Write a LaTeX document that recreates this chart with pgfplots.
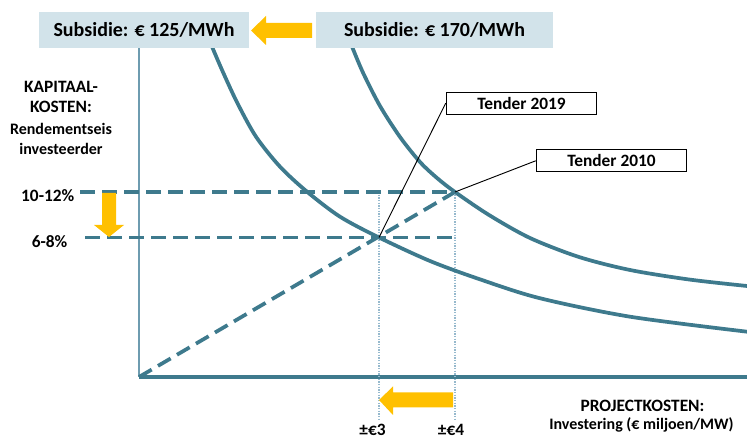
\documentclass[border=0pt]{standalone}
\usepackage{fontspec}
\setmainfont{Carlito}
\usepackage{pgfplots}
\pgfplotsset{compat=1.18}

\definecolor{curve}{RGB}{62,122,141}
\definecolor{axisline}{RGB}{110,156,176}
\definecolor{guide}{RGB}{150,185,205}
\definecolor{boxfill}{RGB}{210,227,234}
\definecolor{arrowor}{RGB}{255,192,0}

% 1 unit = 0.75pt; origin at the corner of the axes
\begin{document}
\begin{tikzpicture}
\useasboundingbox (0,0) rectangle (560.25pt,328.5pt);
\clip (0,0) rectangle (560.25pt,328.5pt);
\begin{axis}[
    at={(0,0)}, anchor=south west,
    scale only axis,
    width=560.25pt, height=328.5pt,
    xmin=-139, xmax=608, ymin=-61, ymax=377,
    axis lines=none, clip=false,
    font=\bfseries,
]
% axes
\addplot[axisline, line width=1.1pt] coordinates {(0,330) (0,0)};
\addplot[curve, line width=3pt] coordinates {(0,0) (608,0)};

% guide lines
\addplot[guide, line width=0.8pt, dash pattern=on 1pt off 1pt] coordinates {(240,185) (240,-43)};
\addplot[guide, line width=0.8pt, dash pattern=on 1pt off 1pt] coordinates {(316,185) (316,-43)};
\addplot[curve, line width=2.8pt, dash pattern=on 11pt off 5.5pt] coordinates {(-59,185) (316,185)};
\addplot[curve, line width=2.8pt, dash pattern=on 11pt off 5.5pt] coordinates {(-54,139.5) (318,139.5)};
\addplot[curve, line width=2.8pt, dash pattern=on 11pt off 5.5pt] coordinates {(0,0) (316,185)};

% Subsidie 125
\addplot[curve, line width=2.8pt, smooth] coordinates {
  (71,336) (73.7,328.7) (84.5,303.7) (98.5,273.7) (117,240.3) (141,210.3)
  (168,185.3) (201,160.3) (240,139.5) (291,116) (340,98) (400,79)
  (491,60.3) (608,45.3)};
% Subsidie 170
\addplot[curve, line width=2.8pt, smooth] coordinates {
  (211,336) (213.7,328.7) (224.3,303.7) (241,271) (261,240) (281,215)
  (298,199) (316,185) (350,162) (391,139) (440,120) (491,107) (550,97.5) (608,91)};

% boxes on top
\node[fill=boxfill, minimum width=157.5pt, minimum height=26.8pt, inner sep=0pt, font=\bfseries\fontsize{15}{18}\selectfont]
  at (5,347.3) {Subsidie: € 125/MWh};
\node[fill=boxfill, minimum width=177.75pt, minimum height=26.8pt, inner sep=0pt, font=\bfseries\fontsize{15}{18}\selectfont]
  at (295.5,347.3) {Subsidie: € 170/MWh};

% orange arrows
\fill[arrowor] (173,339) -- (127,339) -- (127,332) -- (112,346.5) -- (127,361) -- (127,354) -- (173,354) -- cycle;
\fill[arrowor] (-37,184) -- (-37,152) -- (-45,152) -- (-30,140) -- (-15,152) -- (-23,152) -- (-23,184) -- cycle;
\fill[arrowor] (314,-15.5) -- (254,-15.5) -- (254,-9.5) -- (240,-23) -- (254,-38) -- (254,-30.5) -- (314,-30.5) -- cycle;

% tender labels
\node[draw=black, fill=white, line width=0.7pt, minimum width=113pt, minimum height=16.3pt, inner sep=0pt,
  font=\bfseries\fontsize{13}{15}\selectfont] (t19) at (382.5,273.8) {Tender 2019};
\node[draw=black, fill=white, line width=0.7pt, minimum width=113pt, minimum height=16.3pt, inner sep=0pt,
  font=\bfseries\fontsize{13}{15}\selectfont] (t10) at (472.5,216.2) {Tender 2010};
\draw[black, line width=0.7pt] (t19.west) -- (240,139.5);
\draw[black, line width=0.7pt] (t10.west) -- (316,185);

% axis texts
\node[align=center, font=\bfseries\fontsize{13}{15.5}\selectfont] at (-78,280) {KAPITAAL-\\KOSTEN:};
\node[align=center, font=\bfseries\fontsize{12}{15.5}\selectfont] at (-78,238) {Rendementseis\\investeerder};
\node[anchor=east, font=\bfseries\fontsize{13}{15}\selectfont] at (-60,181) {10-12\%};
\node[anchor=east, font=\bfseries\fontsize{13}{15}\selectfont] at (-67,135) {6-8\%};
\node[font=\bfseries\fontsize{13}{15}\selectfont] at (503.5,-29) {PROJECTKOSTEN:};
\node[font=\bfseries\fontsize{12}{14}\selectfont] at (502.5,-48) {Investering (€ miljoen/MW)};
\node[anchor=base, font=\bfseries\fontsize{13}{15}\selectfont] at (233.5,-58.5) {±€3};
\node[anchor=base, font=\bfseries\fontsize{13}{15}\selectfont] at (312,-58.5) {±€4};
\end{axis}
\end{tikzpicture}
\end{document}
